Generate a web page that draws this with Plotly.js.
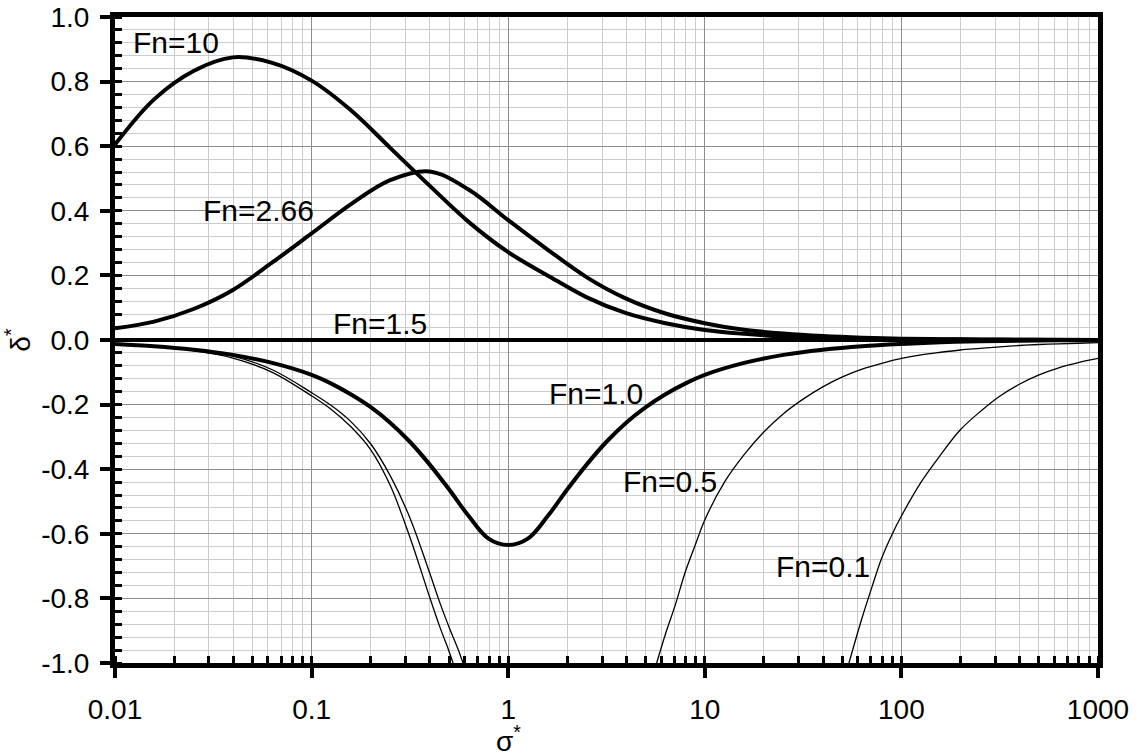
<!DOCTYPE html>
<html>
<head>
<meta charset="utf-8">
<script src="https://cdn.plot.ly/plotly-3.0.1.min.js"></script>
<style>
  html, body { margin: 0; padding: 0; background: #ffffff; }
  #chart { width: 1142px; height: 753px; }
</style>
</head>
<body>
<div id="chart"></div>
<script>
// δ* against σ* for several Froude numbers (Fn)

// Common σ* samples (0.2 decade spacing) for the smooth curves
const sigmaCoarse = [0.01, 0.0158, 0.0251, 0.0398, 0.0631, 0.1, 0.158, 0.251, 0.398, 0.631,
                     1, 1.585, 2.512, 3.981, 6.31, 10, 15.85, 25.12, 39.81, 63.1,
                     100, 158.5, 251.2, 398.1, 631, 1000];

// Fn = 10
const deltaFn10 = [0.605, 0.745, 0.833, 0.875, 0.858, 0.803, 0.712, 0.595, 0.478, 0.365,
                   0.272, 0.2, 0.132, 0.083, 0.052, 0.031, 0.019, 0.011, 0.0065, 0.004,
                   0.0025, 0.0015, 0.001, 0.0006, 0.0003, 0.0002];

// Fn = 2.66
const deltaFn266 = [0.036, 0.057, 0.096, 0.155, 0.24, 0.33, 0.42, 0.495, 0.522, 0.465,
                    0.371, 0.28, 0.194, 0.128, 0.082, 0.052, 0.032, 0.02, 0.012, 0.007,
                    0.004, 0.0025, 0.0015, 0.001, 0.0006, 0.0003];

// Fn = 1.0 (finer sampling around the trough)
const sigmaFn1 = [0.01, 0.0158, 0.0251, 0.0398, 0.0631, 0.1, 0.126, 0.158, 0.2, 0.251, 0.316, 0.398,
                  0.501, 0.631, 0.794, 1, 1.259, 1.585, 1.995, 2.512, 3.162, 3.981, 5.012, 6.31,
                  7.943, 10, 15.85, 25.12, 39.81, 63.1, 100, 158.5, 251.2, 398.1, 631, 1000];
const deltaFn1 = [-0.012, -0.019, -0.03, -0.046, -0.071, -0.108, -0.135, -0.168, -0.208, -0.256, -0.315, -0.385,
                  -0.463, -0.546, -0.615, -0.635, -0.615, -0.546, -0.463, -0.385, -0.315, -0.256, -0.208, -0.168,
                  -0.135, -0.108, -0.071, -0.046, -0.03, -0.019, -0.012, -0.007, -0.004, -0.002, -0.001, -0.0005];

// Fn = 1.5
const sigmaFn15 = [0.01, 1000];
const deltaFn15 = [0, 0];

// Fn = 0.5 and Fn = 0.1, branches below the singular band
const sigmaLow05 = [0.01, 0.0158, 0.0251, 0.0398, 0.0631, 0.1, 0.126, 0.158, 0.2, 0.251, 0.316, 0.398, 0.447, 0.501, 0.562, 0.589];
const deltaLow05 = [-0.011, -0.018, -0.03, -0.05, -0.092, -0.163, -0.203, -0.252, -0.322, -0.42, -0.55, -0.72, -0.81, -0.89, -0.965, -1.0];
const sigmaLow01 = [0.01, 0.0158, 0.0251, 0.0398, 0.0631, 0.1, 0.126, 0.158, 0.2, 0.251, 0.316, 0.398, 0.447, 0.501, 0.524];
const deltaLow01 = [-0.012, -0.02, -0.033, -0.056, -0.1, -0.173, -0.215, -0.268, -0.34, -0.45, -0.61, -0.795, -0.885, -0.965, -1.0];

// Fn = 0.5 and Fn = 0.1, branches above the singular band
const sigmaHigh05 = [5.69, 6.31, 7.08, 7.94, 8.91, 10, 12.59, 15.85, 19.95, 25.12, 31.62, 39.81, 50.12,
                     63.1, 79.43, 100, 125.9, 158.5, 199.5, 251.2, 316.2, 398.1, 501.2, 631, 794.3, 1000];
const deltaHigh05 = [-1.0, -0.91, -0.82, -0.72, -0.637, -0.557, -0.44, -0.355, -0.285, -0.228, -0.183, -0.145, -0.114,
                     -0.09, -0.072, -0.057, -0.046, -0.038, -0.031, -0.026, -0.021, -0.017, -0.014, -0.012, -0.01, -0.008];
const sigmaHigh01 = [54.1, 63.1, 70.8, 79.43, 89.13, 100, 125.9, 158.5, 199.5, 251.2, 316.2, 398.1, 501.2, 631, 794.3, 1000];
const deltaHigh01 = [-1.0, -0.86, -0.765, -0.675, -0.605, -0.545, -0.44, -0.355, -0.278, -0.222, -0.174, -0.137, -0.108, -0.086, -0.07, -0.057];

// Axis ticks
const xTickVals = [0.01, 0.1, 1, 10, 100, 1000];
const xTickText = ['0.01', '0.1', '1', '10', '100', '1000'];
const yTickVals = [-1, -0.8, -0.6, -0.4, -0.2, 0, 0.2, 0.4, 0.6, 0.8, 1];
const yTickText = ['-1.0', '-0.8', '-0.6', '-0.4', '-0.2', '0.0', '0.2', '0.4', '0.6', '0.8', '1.0'];

// Curve labels
const curveLabels = ['Fn=10', 'Fn=2.66', 'Fn=1.5', 'Fn=1.0', 'Fn=0.5', 'Fn=0.1'];
const labelSigma = [0.0204, 0.054, 0.223, 2.8, 6.65, 39.9];
const labelDelta = [0.92, 0.40, 0.05, -0.167, -0.437, -0.70];

const FONT = '"Liberation Sans", Arial, Helvetica, sans-serif';
const thick = { color: '#000000', width: 4, shape: 'spline', smoothing: 1 };
const thin = { color: '#000000', width: 1.3, shape: 'spline', smoothing: 1 };

function curve(x, y, line) {
  return { x: x, y: y, type: 'scatter', mode: 'lines', line: line, hoverinfo: 'skip', showlegend: false };
}

const traces = [
  curve(sigmaCoarse, deltaFn10, thick),
  curve(sigmaCoarse, deltaFn266, thick),
  curve(sigmaFn15, deltaFn15, thick),
  curve(sigmaFn1, deltaFn1, thick),
  curve(sigmaLow05, deltaLow05, thin),
  curve(sigmaHigh05, deltaHigh05, thin),
  curve(sigmaLow01, deltaLow01, thin),
  curve(sigmaHigh01, deltaHigh01, thin)
];

const annotations = curveLabels.map(function (t, i) {
  return {
    text: t, x: Math.log10(labelSigma[i]), y: labelDelta[i], xref: 'x', yref: 'y',
    showarrow: false, xanchor: 'center', yanchor: 'middle',
    font: { family: FONT, size: 30, color: '#000000' }
  };
});
// σ* axis title, centred under σ* = 1
annotations.push({
  text: 'σ<sup>*</sup>', xref: 'x', yref: 'paper', x: 0, y: 0, yshift: -76,
  showarrow: false, xanchor: 'center', yanchor: 'middle',
  font: { family: FONT, size: 28, color: '#000000' }
});

const layout = {
  width: 1142, height: 753,
  margin: { l: 115, r: 44, t: 17, b: 90, pad: 0 },
  paper_bgcolor: '#ffffff', plot_bgcolor: '#ffffff',
  font: { family: FONT, size: 28, color: '#000000' },
  showlegend: false,
  xaxis: {
    type: 'log', range: [-2, 3],
    tickmode: 'array', tickvals: xTickVals, ticktext: xTickText,
    ticks: 'outside', ticklen: 10, tickwidth: 4, tickcolor: '#000000',
    ticklabelstandoff: 7,
    showline: true, linewidth: 5, linecolor: '#000000', mirror: true,
    showgrid: true, gridcolor: '#8c8c8c', gridwidth: 1,
    zeroline: false,
    minor: { dtick: 'D1', ticks: 'inside', ticklen: 7, tickwidth: 3, tickcolor: '#000000',
             showgrid: true, gridcolor: '#cccccc', gridwidth: 1 },
    tickfont: { family: FONT, size: 28, color: '#000000' }
  },
  yaxis: {
    range: [-1, 1],
    tickmode: 'array', tickvals: yTickVals, ticktext: yTickText,
    ticks: 'outside', ticklen: 10, tickwidth: 4, tickcolor: '#000000',
    ticklabelstandoff: 5,
    showline: true, linewidth: 5, linecolor: '#000000', mirror: true,
    showgrid: true, gridcolor: '#8c8c8c', gridwidth: 1,
    zeroline: false,
    minor: { dtick: 0.04, tick0: 0, ticks: 'inside', ticklen: 7, tickwidth: 3, tickcolor: '#000000',
             showgrid: true, gridcolor: '#cccccc', gridwidth: 1 },
    tickfont: { family: FONT, size: 28, color: '#000000' },
    title: { text: 'δ<sup>*</sup>', standoff: 8, font: { family: FONT, size: 28, color: '#000000' } }
  },
  annotations: annotations
};

Plotly.newPlot('chart', traces, layout, { displayModeBar: false, staticPlot: true });
</script>
</body>
</html>
